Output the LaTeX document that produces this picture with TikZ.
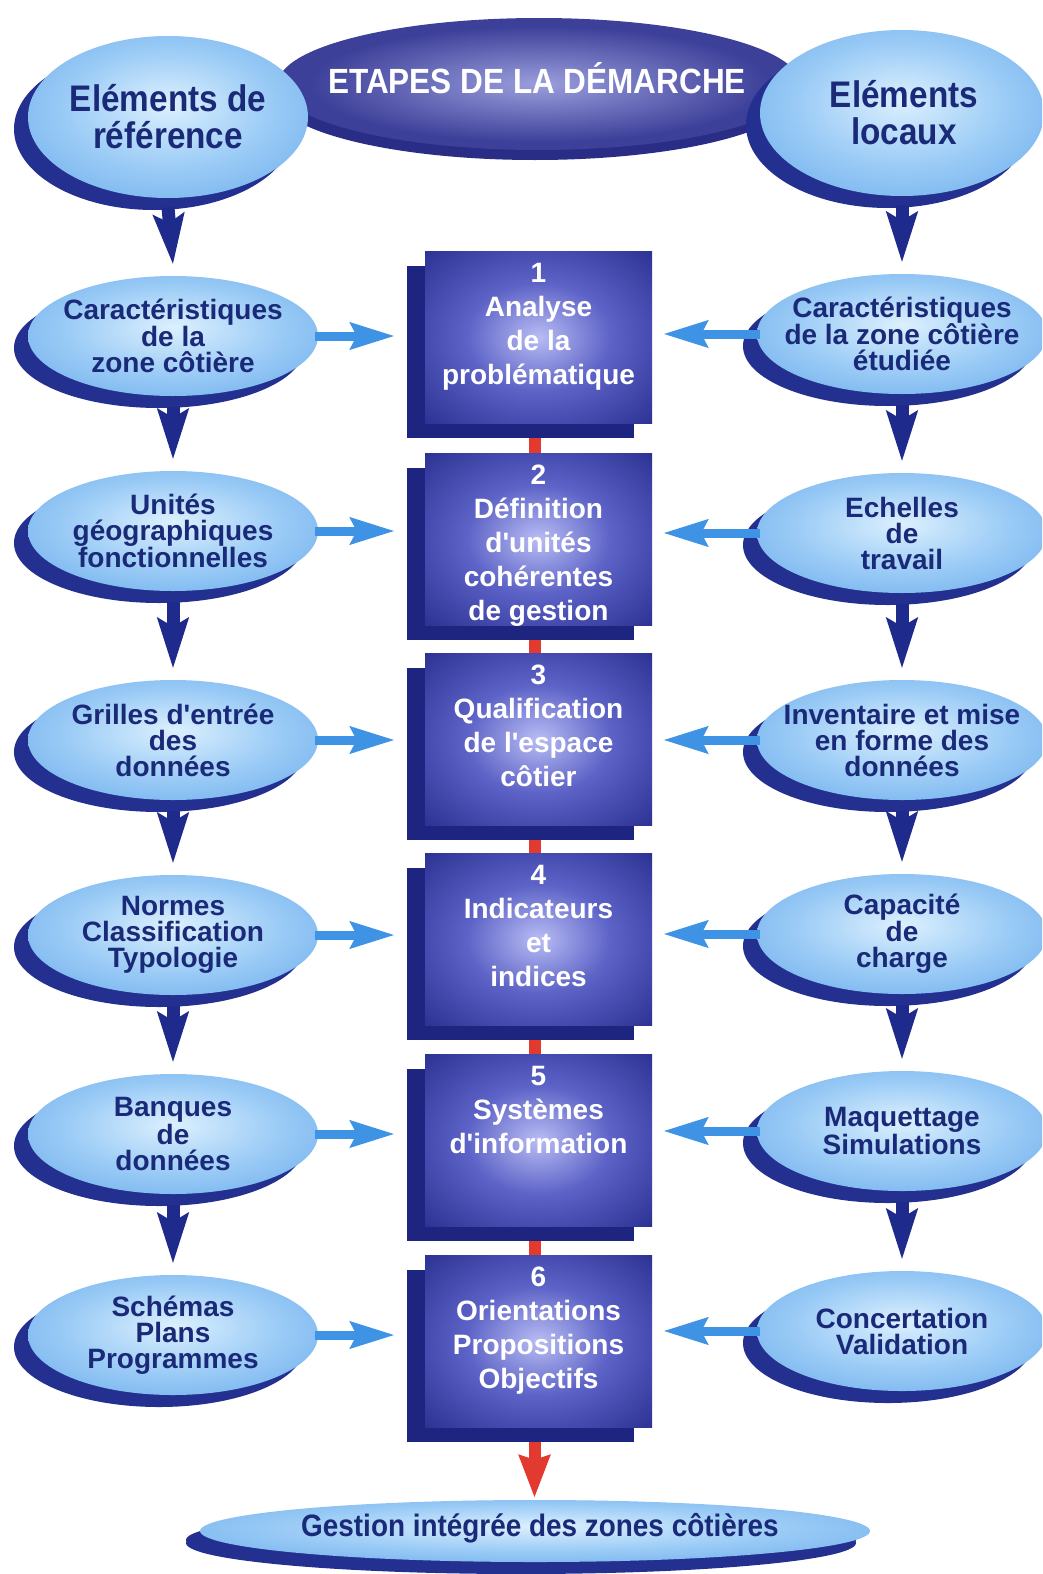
\documentclass[tikz,border=0pt]{standalone}
\usepackage{fontspec}
\setmainfont{Liberation Sans}
\newfontfamily\headfont[FakeStretch=0.9]{Liberation Sans}
\usetikzlibrary{arrows.meta,shadows,shapes.geometric}

% palette
\definecolor{boxlight}{HTML}{B8BCF4}
\definecolor{boxmid}{HTML}{5C62C6}
\definecolor{boxdark}{HTML}{2B3192}
\definecolor{boxshadow}{HTML}{1E2580}
\definecolor{elllight}{HTML}{DCF0FE}
\definecolor{ellmid}{HTML}{9CCCF6}
\definecolor{elldark}{HTML}{4593E4}
\definecolor{ellshadow}{HTML}{23308F}
\definecolor{titlelight}{HTML}{9A9EDC}
\definecolor{titledark}{HTML}{3D4099}
\definecolor{titleshadow}{HTML}{2A2D86}
\definecolor{navytext}{HTML}{1B2A78}
\definecolor{lightarrow}{HTML}{3E93E4}
\definecolor{darkarrow}{HTML}{1F2B8C}
\definecolor{linkred}{HTML}{E23A2E}

\pgfdeclareradialshading{boxglow}{\pgfpoint{0bp}{0bp}}{%
  color(0bp)=(boxlight); color(16bp)=(boxmid); color(36bp)=(boxdark); color(72bp)=(boxdark)}
\pgfdeclareradialshading{ellglow}{\pgfpoint{0bp}{4bp}}{%
  color(0bp)=(elllight); color(18bp)=(ellmid); color(50bp)=(elldark)}
\pgfdeclareradialshading{titleglow}{\pgfpoint{0bp}{0bp}}{%
  color(0bp)=(titlelight); color(22bp)=(titledark); color(50bp)=(titledark)}

\newcommand{\apos}{\textquotesingle}

\begin{document}
\begin{tikzpicture}[x=1pt,y=-1pt,
  stepbox/.style={rectangle, minimum width=227pt, minimum height=172pt, inner sep=0pt,
    shade, shading=boxglow,
    general shadow={fill=boxshadow, shadow xshift=-18pt, shadow yshift=-15pt}},
  bubble/.style={ellipse, minimum width=290pt, minimum height=120pt, inner sep=0pt,
    shade, shading=ellglow,
    general shadow={fill=ellshadow, shadow xshift=-14pt, shadow yshift=-12pt}},
  titleoval/.style={ellipse, minimum width=522pt, minimum height=132pt, inner sep=0pt,
    shade, shading=titleglow,
    general shadow={fill=titleshadow, shadow xshift=-4pt, shadow yshift=-10pt}},
  bubbletext/.style={font=\bfseries\fontsize{28}{26}\selectfont, text=navytext,
    align=center, inner sep=0pt},
  boxtext/.style={font=\bfseries\fontsize{28}{34}\selectfont, text=white,
    align=center, inner sep=0pt, anchor=north},
  headtext/.style={font=\headfont\bfseries\fontsize{37}{37}\selectfont, text=navytext,
    align=center, inner sep=0pt},
  lightlink/.style={line width=9pt, draw=lightarrow,
    -{Stealth[length=44pt, width=26pt, inset=6pt]}},
  darklink/.style={line width=13pt, draw=darkarrow,
    -{Stealth[length=50pt, width=30pt, inset=8pt]}},
  redlink/.style={line width=12pt, draw=linkred},
  redarrow/.style={line width=12pt, draw=linkred,
    -{Stealth[length=42pt, width=30pt, inset=4pt]}}
]
\useasboundingbox (0,0) rectangle (1042,1574);
\clip (0,0) rectangle (1042,1574);
\fill[white] (0,0) rectangle (1042,1574);

% header: title oval and the two source bubbles on top of it
\node[titleoval] (title) at (539,84) {};
\node[font=\headfont\bfseries\fontsize{35}{35}\selectfont, text=white, inner sep=0pt]
  (titlet) at (537,78) {ETAPES DE LA DÉMARCHE};
\node[bubble, minimum width=280pt, minimum height=162pt] (ref) at (168,117) {};
\node[headtext] (reft) at (168,117) {Eléments de\\référence};
\node[bubble, minimum width=284pt, minimum height=166pt] (loc) at (902,113) {};
\node[headtext] (loct) at (904,113) {Eléments\\locaux};

% central steps
\coordinate (s1) at (538.5,337);
\coordinate (s2) at (538.5,539);
\coordinate (s3) at (538.5,739);
\coordinate (s4) at (538.5,939);
\coordinate (s5) at (538.5,1140);
\coordinate (s6) at (538.5,1341);
\foreach \a/\b in {s1/s2,s2/s3,s3/s4,s4/s5,s5/s6}
  \draw[redlink] ([xshift=-4pt]\a) -- ([xshift=-4pt]\b);

\node[stepbox] (b1) at (s1) {};
\node[stepbox] (b2) at (s2) {};
\node[stepbox] (b3) at (s3) {};
\node[stepbox] (b4) at (s4) {};
\node[stepbox] (b5) at (s5) {};
\node[stepbox] (b6) at (s6) {};
\node[boxtext] (b1t) at ([yshift=-12pt]b1.north) {1\\Analyse\\de la\\problématique};
\node[boxtext] (b2t) at ([yshift=-12pt]b2.north) {2\\Définition\\d\apos unités\\cohérentes\\de gestion};
\node[boxtext] (b3t) at ([yshift=-12pt]b3.north) {3\\Qualification\\de l\apos espace\\côtier};
\node[boxtext] (b4t) at ([yshift=-12pt]b4.north) {4\\Indicateurs\\et\\indices};
\node[boxtext] (b5t) at ([yshift=-12pt]b5.north) {5\\Systèmes\\d\apos information};
\node[boxtext] (b6t) at ([yshift=-12pt]b6.north) {6\\Orientations\\Propositions\\Objectifs};

% left column: reference elements
\node[bubble] (l1) at (173,336) {};
\node[bubble] (l2) at (173,531) {};
\node[bubble] (l3) at (173,740) {};
\node[bubble] (l4) at (173,935) {};
\node[bubble] (l5) at (173,1134) {};
\node[bubble] (l6) at (173,1335) {};
\node[bubbletext] (l1t) at (l1) {Caractéristiques\\de la\\zone côtière};
\node[bubbletext] (l2t) at (l2) {Unités\\géographiques\\fonctionnelles};
\node[bubbletext] (l3t) at (l3) {Grilles d\apos entrée\\des\\données};
\node[bubbletext] (l4t) at (l4) {Normes\\Classification\\Typologie};
\node[bubbletext] (l5t) at (l5) {Banques\\de\\données};
\node[bubbletext] (l6t) at (l6) {Schémas\\Plans\\Programmes};

% right column: local elements
\node[bubble] (r1) at (902,334) {};
\node[bubble] (r2) at (902,533) {};
\node[bubble] (r3) at (902,740) {};
\node[bubble] (r4) at (902,934) {};
\node[bubble] (r5) at (902,1131) {};
\node[bubble] (r6) at (902,1331) {};
\node[bubbletext] (r1t) at (r1) {Caractéristiques\\de la zone côtière\\étudiée};
\node[bubbletext] (r2t) at (r2) {Echelles\\de\\travail};
\node[bubbletext] (r3t) at (r3) {Inventaire et mise\\en forme des\\données};
\node[bubbletext] (r4t) at (r4) {Capacité\\de\\charge};
\node[bubbletext] (r5t) at (r5) {Maquettage\\Simulations};
\node[bubbletext] (r6t) at (r6) {Concertation\\Validation};

% final outcome
\node[bubble, minimum width=670pt, minimum height=62pt,
  general shadow={fill=ellshadow, shadow xshift=-14pt, shadow yshift=-9pt}]
  (goal) at (535,1531) {};
\node[font=\headfont\bfseries\fontsize{31}{31}\selectfont, text=navytext, inner sep=0pt]
  (goalt) at (540,1528) {Gestion intégrée des zones côtières};

% vertical chains in the side columns
\draw[darklink] ([yshift=-9pt]ref.south) -- ([yshift=11pt]l1.north);
\draw[darklink] ([yshift=-9pt]loc.south) -- ([yshift=11pt]r1.north);
\foreach \a/\b in {l1/l2,l2/l3,l3/l4,l4/l5,l5/l6,r1/r2,r2/r3,r3/r4,r4/r5,r5/r6}
  \draw[darklink] ([yshift=-11pt]\a.south) -- ([yshift=11pt]\b.north);

% inputs into the steps
\foreach \i in {1,...,6}{
  \draw[lightlink] ([xshift=-3pt]l\i.east) -- ([xshift=-30pt]b\i.west |- l\i.east);
  \draw[lightlink] ([xshift=3pt]r\i.west) -- ([xshift=11pt]b\i.east |- r\i.west);
}

% outcome of the last step
\draw[redarrow] ([xshift=-4pt,yshift=-15pt]b6.south) -- ([xshift=-4pt,yshift=2pt]b6.south |- goal.north);
\end{tikzpicture}
\end{document}
